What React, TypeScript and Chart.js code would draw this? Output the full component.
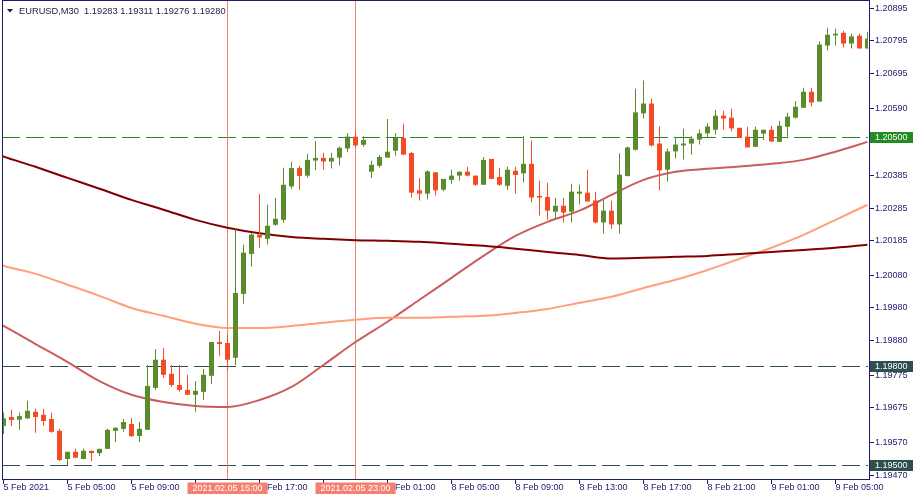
import React, { useEffect, useRef } from "react";
import { Chart, registerables } from "chart.js";

Chart.register(...registerables);

const chartTitle = "EURUSD,M30  1.19283 1.19311 1.19276 1.19280";

// OHLC per 30-minute bar (index 0 = 5 Feb 01:00)
const opens = [
  1.19620, 1.19647, 1.19639, 1.19643, 1.19663, 1.19654, 1.19641, 1.19605, 1.19519, 1.19541,
  1.19519, 1.19544, 1.19537, 1.19550, 1.19605, 1.19611, 1.19626, 1.19589, 1.19608, 1.19736,
  1.19822, 1.19779, 1.19745, 1.19730, 1.19715, 1.19724, 1.19773, 1.19876, 1.19873, 1.19828,
  1.20023, 1.20145, 1.20204, 1.20191, 1.20234, 1.20249, 1.20351, 1.20407, 1.20384, 1.20430,
  1.20438, 1.20427, 1.20439, 1.20467, 1.20503, 1.20478, 1.20396, 1.20414, 1.20439, 1.20460,
  1.20499, 1.20453, 1.20339, 1.20329, 1.20394, 1.20341, 1.20371, 1.20384, 1.20396, 1.20384,
  1.20356, 1.20435, 1.20380, 1.20353, 1.20399, 1.20391, 1.20420, 1.20322, 1.20319, 1.20274,
  1.20292, 1.20274, 1.20329, 1.20332, 1.20308, 1.20241, 1.20277, 1.20235, 1.20383, 1.20463,
  1.20574, 1.20604, 1.20482, 1.20402, 1.20458, 1.20476, 1.20482, 1.20494, 1.20513, 1.20524,
  1.20567, 1.20561, 1.20530, 1.20503, 1.20472, 1.20512, 1.20524, 1.20487, 1.20533, 1.20561,
  1.20591, 1.20640, 1.20610, 1.20781, 1.20812, 1.20820, 1.20787, 1.20811, 1.20772,
];
const highs = [
  1.19661, 1.19669, 1.19661, 1.19697, 1.19672, 1.19672, 1.19660, 1.19611, 1.19541, 1.19550,
  1.19550, 1.19544, 1.19550, 1.19611, 1.19617, 1.19641, 1.19644, 1.19632, 1.19806, 1.19855,
  1.19858, 1.19806, 1.19806, 1.19776, 1.19757, 1.19794, 1.19876, 1.19910, 1.19898, 1.20221,
  1.20173, 1.20210, 1.20328, 1.20295, 1.20316, 1.20408, 1.20426, 1.20414, 1.20451, 1.20490,
  1.20454, 1.20454, 1.20473, 1.20514, 1.20518, 1.20504, 1.20429, 1.20448, 1.20557, 1.20514,
  1.20542, 1.20456, 1.20376, 1.20400, 1.20394, 1.20374, 1.20402, 1.20396, 1.20411, 1.20384,
  1.20441, 1.20435, 1.20408, 1.20411, 1.20411, 1.20504, 1.20491, 1.20368, 1.20362, 1.20316,
  1.20316, 1.20359, 1.20356, 1.20402, 1.20335, 1.20310, 1.20307, 1.20452, 1.20473, 1.20649,
  1.20674, 1.20619, 1.20534, 1.20467, 1.20503, 1.20527, 1.20504, 1.20525, 1.20544, 1.20585,
  1.20582, 1.20588, 1.20530, 1.20533, 1.20533, 1.20524, 1.20536, 1.20551, 1.20576, 1.20612,
  1.20652, 1.20652, 1.20793, 1.20835, 1.20832, 1.20826, 1.20817, 1.20817, 1.20823,
];
const lows = [
  1.19595, 1.19620, 1.19608, 1.19642, 1.19599, 1.19621, 1.19599, 1.19513, 1.19501, 1.19521,
  1.19519, 1.19513, 1.19528, 1.19550, 1.19571, 1.19602, 1.19586, 1.19571, 1.19608, 1.19730,
  1.19767, 1.19739, 1.19724, 1.19715, 1.19663, 1.19699, 1.19748, 1.19834, 1.19788, 1.19806,
  1.19993, 1.20106, 1.20164, 1.20174, 1.20231, 1.20240, 1.20344, 1.20341, 1.20378, 1.20400,
  1.20402, 1.20406, 1.20415, 1.20455, 1.20469, 1.20472, 1.20377, 1.20408, 1.20439, 1.20445,
  1.20448, 1.20317, 1.20308, 1.20311, 1.20323, 1.20336, 1.20359, 1.20368, 1.20381, 1.20353,
  1.20356, 1.20374, 1.20353, 1.20341, 1.20329, 1.20363, 1.20302, 1.20262, 1.20249, 1.20250,
  1.20241, 1.20241, 1.20296, 1.20305, 1.20238, 1.20207, 1.20222, 1.20207, 1.20381, 1.20461,
  1.20558, 1.20473, 1.20339, 1.20366, 1.20436, 1.20433, 1.20448, 1.20479, 1.20500, 1.20509,
  1.20524, 1.20519, 1.20499, 1.20470, 1.20472, 1.20493, 1.20487, 1.20487, 1.20503, 1.20558,
  1.20591, 1.20595, 1.20610, 1.20766, 1.20781, 1.20775, 1.20772, 1.20772, 1.20772,
];
const closes = [
  1.19643, 1.19638, 1.19650, 1.19666, 1.19647, 1.19635, 1.19602, 1.19516, 1.19541, 1.19523,
  1.19544, 1.19537, 1.19550, 1.19608, 1.19614, 1.19632, 1.19589, 1.19611, 1.19742, 1.19822,
  1.19776, 1.19745, 1.19730, 1.19715, 1.19727, 1.19776, 1.19876, 1.19870, 1.19822, 1.20026,
  1.20149, 1.20204, 1.20195, 1.20231, 1.20252, 1.20356, 1.20407, 1.20383, 1.20432, 1.20438,
  1.20427, 1.20438, 1.20469, 1.20503, 1.20476, 1.20493, 1.20417, 1.20441, 1.20457, 1.20499,
  1.20448, 1.20332, 1.20329, 1.20397, 1.20339, 1.20374, 1.20384, 1.20396, 1.20384, 1.20356,
  1.20432, 1.20374, 1.20356, 1.20402, 1.20386, 1.20420, 1.20317, 1.20317, 1.20277, 1.20292,
  1.20271, 1.20335, 1.20335, 1.20305, 1.20241, 1.20277, 1.20235, 1.20387, 1.20470, 1.20577,
  1.20604, 1.20476, 1.20400, 1.20458, 1.20479, 1.20482, 1.20497, 1.20513, 1.20534, 1.20567,
  1.20558, 1.20528, 1.20499, 1.20470, 1.20524, 1.20524, 1.20488, 1.20536, 1.20564, 1.20594,
  1.20640, 1.20607, 1.20784, 1.20814, 1.20817, 1.20787, 1.20809, 1.20772, 1.20802,
];

// Moving averages, sampled every 4 bars
const maBars = [-1, 0, 4, 8, 12, 16, 20, 24, 28, 32, 36, 40, 44, 48, 52, 56, 60, 64, 68, 72, 76, 80, 84, 88, 92, 96, 100, 104, 108];
const maSlow = [
  1.20451, 1.20442, 1.20411, 1.20377, 1.20344, 1.20310, 1.20280, 1.20249, 1.20225, 1.20208,
  1.20197, 1.20191, 1.20187, 1.20185, 1.20182, 1.20176, 1.20170, 1.20161, 1.20151, 1.20142,
  1.20131, 1.20133, 1.20136, 1.20139, 1.20145, 1.20151, 1.20157, 1.20164, 1.20173,
];
const maMid = [
  1.20118, 1.20109, 1.20084, 1.20051, 1.20017, 1.19980, 1.19956, 1.19932, 1.19919, 1.19919,
  1.19925, 1.19935, 1.19944, 1.19950, 1.19950, 1.19953, 1.19956, 1.19965, 1.19977, 1.19996,
  1.20014, 1.20041, 1.20066, 1.20096, 1.20130, 1.20164, 1.20203, 1.20249, 1.20295,
];
const maFast = [
  1.19938, 1.19925, 1.19870, 1.19815, 1.19757, 1.19715, 1.19693, 1.19681, 1.19678, 1.19699,
  1.19739, 1.19806, 1.19876, 1.19938, 1.20005, 1.20072, 1.20139, 1.20200, 1.20243, 1.20277,
  1.20325, 1.20371, 1.20396, 1.20405, 1.20412, 1.20420, 1.20432, 1.20457, 1.20487,
];

const timeTickBars = [0, 8, 16, 24, 32, 40, 48, 56, 64, 72, 80, 88, 96, 104];
const timeLabels = [
  "5 Feb 2021", "5 Feb 05:00", "5 Feb 09:00", "5 Feb 13:00", "5 Feb 17:00", "5 Feb 21:00",
  "8 Feb 01:00", "8 Feb 05:00", "8 Feb 09:00", "8 Feb 13:00", "8 Feb 17:00", "8 Feb 21:00",
  "9 Feb 01:00", "9 Feb 05:00",
];
const priceTicks = [
  1.20895, 1.20795, 1.20695, 1.20590, 1.20490, 1.20385, 1.20285, 1.20185, 1.20080,
  1.19980, 1.19880, 1.19775, 1.19675, 1.19570, 1.19470,
];
const priceMin = 1.19461;
const priceMax = 1.20917;

const greenLevels = [1.205];
const darkLevels = [1.198, 1.195];
const markerBars = [28, 44];
const markerLabels = ["2021.02.05 15:00", "2021.02.05 23:00"];

const FONT = "'Liberation Sans', Arial, sans-serif";
const TXT = "#1c1c6a";
const FRAME = "#1c1c6a";
const UP = "#5a8c2e";
const DOWN = "#f24b26";
const MARK = "#f4806f";
const GREEN_LINE = "#228b22";
const DARK_LINE = "#2f4f4f";

const overlayPlugin = {
  id: "mtOverlay",
  beforeDatasetsDraw(chart: any) {
    const { ctx, chartArea: a, scales } = chart;
    const x = scales.x;
    const y = scales.y;
    ctx.save();
    ctx.lineWidth = 1;
    ctx.setLineDash([18, 6]);
    const hline = (v: number, color: string) => {
      const py = Math.round(y.getPixelForValue(v) - 0.5) + 0.5;
      ctx.strokeStyle = color;
      ctx.beginPath();
      ctx.moveTo(a.left, py);
      ctx.lineTo(a.right, py);
      ctx.stroke();
    };
    greenLevels.forEach((v) => hline(v, GREEN_LINE));
    darkLevels.forEach((v) => hline(v, DARK_LINE));
    ctx.setLineDash([]);
    ctx.strokeStyle = MARK;
    markerBars.forEach((b) => {
      const px = Math.floor(x.getPixelForValue(b)) + 0.5;
      ctx.beginPath();
      ctx.moveTo(px, 0);
      ctx.lineTo(px, 479);
      ctx.stroke();
    });
    ctx.restore();
  },
  afterDraw(chart: any) {
    const { ctx, scales } = chart;
    const x = scales.x;
    const y = scales.y;
    ctx.save();
    ctx.lineWidth = 1;
    ctx.strokeStyle = FRAME;
    // frame
    ctx.beginPath();
    ctx.moveTo(2.5, 0);
    ctx.lineTo(2.5, 480);
    ctx.moveTo(2, 0.5);
    ctx.lineTo(870, 0.5);
    ctx.moveTo(869.5, 0);
    ctx.lineTo(869.5, 480);
    ctx.moveTo(2, 479.5);
    ctx.lineTo(870, 479.5);
    ctx.stroke();
    // tick marks
    ctx.beginPath();
    priceTicks.forEach((v) => {
      const py = Math.round(y.getPixelForValue(v) - 0.5) + 0.5;
      ctx.moveTo(870, py);
      ctx.lineTo(874, py);
    });
    timeTickBars.forEach((b) => {
      const px = Math.floor(x.getPixelForValue(b)) + 0.5;
      ctx.moveTo(px, 480);
      ctx.lineTo(px, 484);
    });
    ctx.stroke();

    // title
    ctx.fillStyle = "#1a1a4a";
    ctx.beginPath();
    ctx.moveTo(7, 9);
    ctx.lineTo(13, 9);
    ctx.lineTo(10, 12.5);
    ctx.closePath();
    ctx.fill();
    ctx.font = `9.3px ${FONT}`;
    ctx.textBaseline = "middle";
    ctx.textAlign = "left";
    ctx.fillText(chartTitle, 19, 11);

    // price boxes
    ctx.font = `9px ${FONT}`;
    const pbox = (v: number, color: string) => {
      const py = Math.round(y.getPixelForValue(v) - 0.5) + 0.5;
      ctx.fillStyle = color;
      ctx.fillRect(870, py - 5.5, 43, 11);
      ctx.fillStyle = "#ffffff";
      ctx.textAlign = "left";
      ctx.fillText(v.toFixed(5), 875, py + 0.5);
    };
    greenLevels.forEach((v) => pbox(v, GREEN_LINE));
    darkLevels.forEach((v) => pbox(v, DARK_LINE));

    // time boxes
    markerBars.forEach((b, k) => {
      const px = Math.floor(x.getPixelForValue(b)) + 0.5;
      ctx.fillStyle = MARK;
      ctx.fillRect(px - 40, 482.5, 80, 11.5);
      ctx.fillStyle = "#ffffff";
      ctx.textAlign = "center";
      ctx.fillText(markerLabels[k], px, 488.5);
    });
    ctx.restore();
  },
};

export default function App() {
  const ref = useRef<HTMLCanvasElement>(null);
  useEffect(() => {
    document.body.style.margin = "0";
    const canvas = ref.current;
    if (!canvas) return;
    const barColors = closes.map((c, i) => (c >= opens[i] ? UP : DOWN));
    const chart = new Chart(canvas, {
      type: "bar",
      data: {
        datasets: [
          {
            type: "line",
            data: maBars.map((b, k) => ({ x: b, y: maSlow[k] })),
            borderColor: "#800000",
            borderWidth: 2,
            pointRadius: 0,
            cubicInterpolationMode: "monotone",
            order: 5,
          } as any,
          {
            type: "line",
            data: maBars.map((b, k) => ({ x: b, y: maMid[k] })),
            borderColor: "#ffa07a",
            borderWidth: 2,
            pointRadius: 0,
            cubicInterpolationMode: "monotone",
            order: 5,
          } as any,
          {
            type: "line",
            data: maBars.map((b, k) => ({ x: b, y: maFast[k] })),
            borderColor: "#cd5c5c",
            borderWidth: 2,
            pointRadius: 0,
            cubicInterpolationMode: "monotone",
            order: 5,
          } as any,
          {
            type: "bar",
            data: lows.map((l, i) => ({ x: i, y: [l, highs[i]] })),
            backgroundColor: barColors,
            borderWidth: 0,
            barThickness: 1,
            minBarLength: 1,
            grouped: false,
            inflateAmount: 0,
            order: 2,
          } as any,
          {
            type: "bar",
            data: opens.map((o, i) => ({ x: i, y: [o, closes[i]] })),
            backgroundColor: barColors,
            borderWidth: 0,
            barThickness: 5,
            minBarLength: 1,
            grouped: false,
            inflateAmount: 0,
            order: 1,
          } as any,
        ],
      },
      options: {
        responsive: false,
        animation: false,
        events: [],
        layout: { padding: { left: 2, top: 1, right: 0, bottom: 0 } },
        plugins: {
          legend: { display: false },
          tooltip: { enabled: false },
        },
        scales: {
          x: {
            type: "linear",
            min: -0.1875,
            max: 108.0625,
            offset: false,
            grid: { display: false, drawTicks: false, tickLength: 0 },
            border: { display: false },
            afterBuildTicks: (s: any) => {
              s.ticks = timeTickBars.map((v) => ({ value: v }));
            },
            afterFit: (s: any) => {
              s.height = 22;
              s.paddingLeft = 0;
              s.paddingRight = 0;
            },
            ticks: {
              autoSkip: false,
              maxRotation: 0,
              minRotation: 0,
              align: "start",
              padding: 4,
              color: TXT,
              font: { family: FONT, size: 9 },
              callback: (_v: any, idx: number) => timeLabels[idx],
            },
          },
          y: {
            type: "linear",
            position: "right",
            min: priceMin,
            max: priceMax,
            grid: { display: false, drawTicks: false, tickLength: 0 },
            border: { display: false },
            afterBuildTicks: (s: any) => {
              s.ticks = priceTicks.map((v) => ({ value: v }));
            },
            afterFit: (s: any) => {
              s.width = 47;
              s.paddingTop = 0;
              s.paddingBottom = 0;
            },
            ticks: {
              autoSkip: false,
              padding: 7,
              crossAlign: "near",
              color: TXT,
              font: { family: FONT, size: 9 },
              callback: (v: any) => Number(v).toFixed(5),
            },
          },
        },
      } as any,
      plugins: [overlayPlugin],
    });
    return () => chart.destroy();
  }, []);
  return (
    <canvas
      ref={ref}
      width={915}
      height={500}
      style={{ display: "block", width: 915, height: 500 }}
    />
  );
}
